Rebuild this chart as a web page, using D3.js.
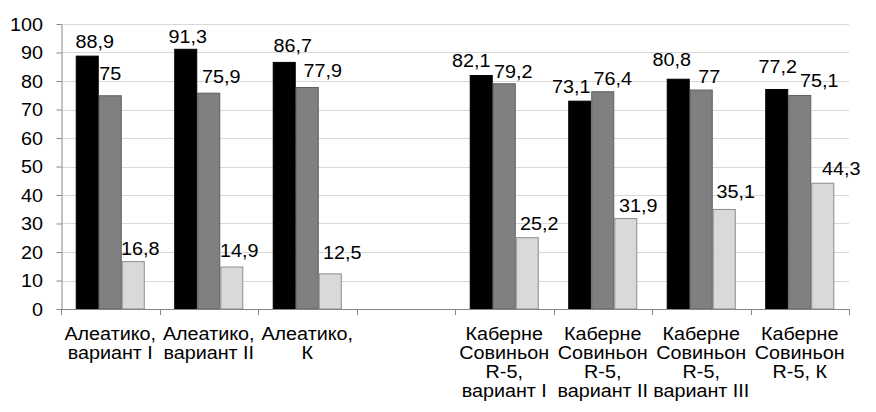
<!DOCTYPE html>
<html>
<head>
<meta charset="utf-8">
<script src="https://cdn.jsdelivr.net/npm/d3@7"></script>
<style>
  html, body { margin: 0; padding: 0; background: #fff; }
  svg { display: block; font-family: "Liberation Sans", Arial, sans-serif; }
</style>
</head>
<body>
<svg id="chart" width="876" height="412"></svg>
<script>
// Category labels, one entry per line of text; the empty slot separates the two varieties
const categories = [
  ["Алеатико,", "вариант I"],
  ["Алеатико,", "вариант II"],
  ["Алеатико,", "К"],
  [],
  ["Каберне", "Совиньон", "R-5,", "вариант I"],
  ["Каберне", "Совиньон", "R-5,", "вариант II"],
  ["Каберне", "Совиньон", "R-5,", "вариант III"],
  ["Каберне", "Совиньон", "R-5, К"]
];

const seriesNames = ["s1", "s2", "s3"];
const series1 = [88.9, 91.3, 86.7, null, 82.1, 73.1, 80.8, 77.2];
const series2 = [75, 75.9, 77.9, null, 79.2, 76.4, 77, 75.1];
const series3 = [16.8, 14.9, 12.5, null, 25.2, 31.9, 35.1, 44.3];

const yTicks = [0, 10, 20, 30, 40, 50, 60, 70, 80, 90, 100];

// Styling per series
const fills   = ["#000000", "#808080", "#d9d9d9"];
const strokes = ["#000000", "#5e5e5e", "#8c8c8c"];

// Value-label placement tweaks: [horizontal shift, gap above the bar]
const labelShift = [
  [[7.5, 7.6], [2, 5.8], [8.5, 10], null, [-10, 8], [-8.5, 7.7], [-6.5, 13], [1, 16]],
  [[0, 15], [12.5, 9.7], [15.5, 10], null, [9, 5], [10, 6], [8, 7], [19.5, 8]],
  [[7, 6], [7.5, 10], [12, 14], null, [12, 7], [12.5, 6], [11.5, 11], [18.5, 8]]
];

const values = [series1, series2, series3];
const svg = d3.select("#chart");

const plotLeft = 61, plotRight = 849, plotTop = 24, plotBottom = 309;
const fontSize = 17.5;
const stretch = 1.13;   // text is set slightly wide

const x0 = d3.scaleBand().domain(d3.range(categories.length)).range([plotLeft, plotRight]).padding(0);
const x1 = d3.scaleBand().domain(seriesNames).range([0, x0.bandwidth()]).paddingInner(0).paddingOuter(0.64);
const y = d3.scaleLinear().domain([0, 100]).range([plotBottom, plotTop]);

// Horizontal gridlines
svg.append("g")
  .selectAll("line")
  .data(yTicks.filter(t => t > 0))
  .join("line")
  .attr("x1", plotLeft).attr("x2", plotRight)
  .attr("y1", d => Math.round(y(d)) + 0.5).attr("y2", d => Math.round(y(d)) + 0.5)
  .attr("stroke", "#d9d9d9").attr("stroke-width", 1);

// Bars
const rows = [];
values.forEach((vals, si) => vals.forEach((v, ci) => {
  if (v != null) rows.push({ si, ci, v });
}));

svg.append("g")
  .selectAll("rect")
  .data(rows)
  .join("rect")
  .attr("x", d => x0(d.ci) + x1(seriesNames[d.si]) + 0.5)
  .attr("y", d => y(d.v) + 0.5)
  .attr("width", x1.bandwidth() - 1)
  .attr("height", d => y(0) - y(d.v) - 0.5)
  .attr("fill", d => fills[d.si])
  .attr("stroke", d => strokes[d.si])
  .attr("stroke-width", 1);

// Y axis
const yAxis = d3.axisLeft(y).tickValues(yTicks).tickSize(5).tickSizeOuter(0);
const gy = svg.append("g").attr("transform", `translate(${plotLeft + 0.5},0)`).call(yAxis);
gy.select(".domain").attr("stroke", "#868686");
gy.selectAll(".tick line").attr("stroke", "#868686");
gy.selectAll(".tick text")
  .attr("font-size", fontSize)
  .attr("font-family", "Liberation Sans, Arial, sans-serif")
  .attr("fill", "#000")
  .attr("x", -18.5 / stretch)
  .attr("dy", "0.36em")
  .attr("transform", `scale(${stretch},1)`);

// X axis baseline with ticks on category boundaries
const gx = svg.append("g");
gx.append("line")
  .attr("x1", plotLeft).attr("x2", plotRight + 1)
  .attr("y1", plotBottom + 0.5).attr("y2", plotBottom + 0.5)
  .attr("stroke", "#868686");
const boundaries = d3.range(categories.length + 1).map(i => i < categories.length ? x0(i) : x0(categories.length - 1) + x0.bandwidth());
gx.selectAll("line.tick")
  .data(boundaries)
  .join("line")
  .attr("class", "tick")
  .attr("x1", d => Math.round(d) + 0.5).attr("x2", d => Math.round(d) + 0.5)
  .attr("y1", plotBottom).attr("y2", plotBottom + 6)
  .attr("stroke", "#868686");

// Category labels
const lineGap = 19.3;
const catG = svg.append("g")
  .attr("font-size", fontSize)
  .attr("fill", "#000")
  .attr("text-anchor", "middle");
categories.forEach((lines, ci) => {
  const cx = x0(ci) + x0.bandwidth() / 2;
  const t = catG.append("text")
    .attr("transform", `translate(${cx},339.5) scale(${stretch},1)`);
  lines.forEach((ln, li) => {
    t.append("tspan")
      .attr("x", 0)
      .attr("dy", li === 0 ? 0 : lineGap)
      .text(ln);
  });
});

// Value labels above bars
const fmt = v => String(v).replace(".", ",");
svg.append("g")
  .attr("font-size", fontSize)
  .attr("fill", "#000")
  .attr("text-anchor", "middle")
  .selectAll("text")
  .data(rows)
  .join("text")
  .attr("transform", d => {
    const lx = x0(d.ci) + x1(seriesNames[d.si]) + x1.bandwidth() / 2 + labelShift[d.si][d.ci][0];
    const ly = y(d.v) - labelShift[d.si][d.ci][1];
    return `translate(${lx},${ly}) scale(${stretch},1)`;
  })
  .text(d => fmt(d.v));
</script>
</body>
</html>
